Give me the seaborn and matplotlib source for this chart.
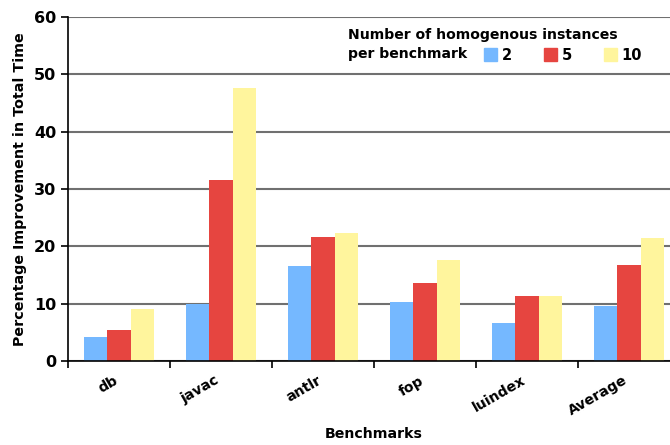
import matplotlib.pyplot as plt
from matplotlib.ticker import FixedLocator
from matplotlib.transforms import ScaledTranslation
import pandas as pd
import seaborn as sns

benchmarks = ['db', 'javac', 'antlr', 'fop', 'luindex', 'Average']
inst_2 = [4.2, 9.9, 16.6, 10.3, 6.6, 9.6]
inst_5 = [5.4, 31.6, 21.6, 13.6, 11.3, 16.8]
inst_10 = [9.1, 47.6, 22.3, 17.7, 11.3, 21.5]
instances = ['2', '5', '10']
colors = ['#75b8ff', '#e64540', '#fff59d']

df = pd.DataFrame({
    'benchmark': benchmarks * 3,
    'instances': sum([[k] * len(benchmarks) for k in instances], []),
    'value': inst_2 + inst_5 + inst_10,
})

sns.set_style('white')
plt.rcParams['font.family'] = ['DejaVu Sans']
plt.rcParams['font.weight'] = 'bold'
plt.rcParams['text.color'] = 'black'

fig = plt.figure(figsize=(6.7, 4.45), dpi=100)
ax = fig.add_axes([68 / 670, 84 / 445, 612 / 670, 344 / 445])

sns.barplot(
    data=df, x='benchmark', y='value', hue='instances',
    order=benchmarks, hue_order=instances,
    palette=colors, width=0.68, gap=0, saturation=1,
    linewidth=0, ax=ax, legend=False
)

ax.set_xlim(-0.5, len(benchmarks) - 0.5)
ax.set_ylim(0, 60)
ax.set_yticks(range(0, 61, 10))
ax.yaxis.grid(True, color='#707070', linewidth=1.5)
ax.set_axisbelow(True)
for s in ['top', 'right']:
    ax.spines[s].set_visible(False)
for s in ['left', 'bottom']:
    ax.spines[s].set_color('black')
    ax.spines[s].set_linewidth(1.2)

ax.xaxis.set_minor_locator(FixedLocator([i - 0.5 for i in range(len(benchmarks) + 1)]))
ax.tick_params(axis='x', which='major', length=0, pad=9)
ax.tick_params(axis='x', which='minor', length=5, width=1.2, color='black', direction='out', bottom=True)
ax.tick_params(axis='y', length=5, width=1.2, color='black', direction='out', left=True, labelsize=11.5)
plt.setp(ax.get_yticklabels(), fontweight='bold', color='black')
ax.set_xticks(range(len(benchmarks)))
ax.set_xticklabels(benchmarks)
plt.setp(ax.get_xticklabels(), rotation=30, ha='right', rotation_mode='anchor',
         fontsize=10.2, fontweight='bold', color='black')
for lab in ax.get_xticklabels():
    lab.set_transform(lab.get_transform() + ScaledTranslation(-0.06, 0, fig.dpi_scale_trans))

ax.set_xlabel('Benchmarks', fontsize=10.2, fontweight='bold', color='black', labelpad=6)
ax.set_ylabel('Percentage Improvement in Total Time', fontsize=10.3, fontweight='bold',
              color='black', labelpad=5)

# legend: two-line title text, swatches on the second line
fig.text(348 / 670, 1 - 35 / 445, 'Number of homogenous instances', fontsize=10.1,
         fontweight='bold', va='center', ha='left', color='black')
fig.text(348 / 670, 1 - 54 / 445, 'per benchmark', fontsize=10.1,
         fontweight='bold', va='center', ha='left', color='black')
handles = [plt.Rectangle((0, 0), 1, 1, color=c) for c in colors]
fig.legend(handles, instances, ncol=3, frameon=False,
           loc='center left', bbox_to_anchor=(471 / 670, 1 - 55 / 445),
           handlelength=0.9, handleheight=0.9, handletextpad=0.3,
           columnspacing=2.2, prop={'weight': 'bold', 'size': 10.5})

fig.savefig('out.png', dpi=100)
